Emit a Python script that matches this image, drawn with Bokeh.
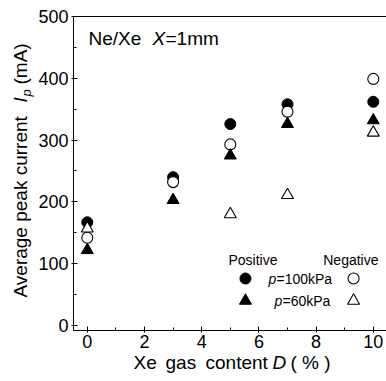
from bokeh.plotting import figure
from bokeh.models import Range1d, Label, FixedTicker, LinearAxis
from bokeh.embed import file_html
from bokeh.resources import INLINE
from math import pi

# ---- data ----
xe_content = [0, 3, 5, 7, 10]                 # Xe gas content D (%)
pos_100kpa = [167, 240, 326, 358, 362]        # Positive, p=100kPa (filled circle)
neg_100kpa = [142, 232, 293, 346, 399]        # Negative, p=100kPa (open circle)
pos_60kpa = [122, 203, 275, 326, 332]         # Positive, p=60kPa (filled triangle)
neg_60kpa_x = [0, 5, 7, 10]                   # Negative, p=60kPa (open triangle)
neg_60kpa = [157, 180, 211, 312]
x_ticks = [0, 2, 4, 6, 8, 10]
x_minor = [1, 3, 5, 7, 9]
y_ticks = [0, 100, 200, 300, 400, 500]
y_minor = [50, 150, 250, 350, 450]

# axis box (data units)
X_LO, X_HI = -0.48, 10.46
Y_LO, Y_HI = -8, 500

FONT = "Liberation Sans"
W, H = 386, 378

p = figure(width=W, height=H,
           x_range=Range1d(-3.035, 10.462), y_range=Range1d(-85.8, 525.9),
           output_backend="svg", toolbar_location=None,
           x_axis_location=None, y_axis_location=None,
           min_border=0)
p.xgrid.visible = False
p.ygrid.visible = False
p.outline_line_color = None
p.background_fill_color = "white"
p.border_fill_color = "white"


def style_axis(ax):
    ax.axis_line_color = "black"
    ax.axis_line_width = 1
    ax.major_tick_line_color = "black"
    ax.minor_tick_line_color = "black"
    ax.major_tick_in = 4
    ax.major_tick_out = 2
    ax.minor_tick_in = 3
    ax.minor_tick_out = 0
    ax.major_label_text_font = FONT
    ax.major_label_text_font_size = "18px"
    ax.major_label_text_color = "black"
    ax.major_label_standoff = 3


xaxis = LinearAxis(fixed_location=Y_LO, bounds=(X_LO, X_HI),
                   ticker=FixedTicker(ticks=x_ticks, minor_ticks=x_minor))
yaxis = LinearAxis(fixed_location=X_LO, bounds=(Y_LO, Y_HI),
                   ticker=FixedTicker(ticks=y_ticks, minor_ticks=y_minor))
style_axis(xaxis)
style_axis(yaxis)
p.add_layout(xaxis, "below")
p.add_layout(yaxis, "left")

# top border of the box
topaxis = LinearAxis(fixed_location=Y_HI, bounds=(X_LO, X_HI),
                     ticker=FixedTicker(ticks=[]))
topaxis.axis_line_color = "black"
topaxis.major_tick_line_color = None
topaxis.minor_tick_line_color = None
topaxis.major_label_text_font_size = "0px"
p.add_layout(topaxis, "above")

# ---- data markers ----
p.scatter(xe_content, pos_100kpa, marker="circle", size=11,
          fill_color="black", line_color="black")
p.scatter(xe_content, neg_100kpa, marker="circle", size=11,
          fill_color="white", line_color="black", line_width=1.1)
p.scatter(xe_content, pos_60kpa, marker="triangle", size=12,
          fill_color="black", line_color="black")
p.scatter(neg_60kpa_x, neg_60kpa, marker="triangle", size=12,
          fill_color="white", line_color="black", line_width=1.1)

# ---- legend (manual, as in the reference) ----
leg_x = [5.53, 9.31]
leg_y = [76, 40]
p.scatter([leg_x[0]], [leg_y[0]], marker="circle", size=11, fill_color="black", line_color="black")
p.scatter([leg_x[1]], [leg_y[0]], marker="circle", size=11, fill_color="white", line_color="black", line_width=1.1)
p.scatter([leg_x[0]], [leg_y[1]], marker="triangle", size=12, fill_color="black", line_color="black")
p.scatter([leg_x[1]], [leg_y[1]], marker="triangle", size=12, fill_color="white", line_color="black", line_width=1.1)


def lab(text, x, y, size="14px", style="normal", align="left", angle=0.0):
    # x, y in canvas pixels from the top-left corner
    p.add_layout(Label(x=x, y=H - y, x_units="screen", y_units="screen", text=text,
                       text_font=FONT, text_font_size=size, text_font_style=style,
                       text_color="black", text_align=align, text_baseline="middle",
                       angle=angle))


lab("Positive", 228, 259)
lab("Negative", 378, 259, align="right")
lab("p", 268, 278, style="italic")
lab("=100kPa", 276, 278)
lab("p", 274, 300, style="italic")
lab("=60kPa", 282, 300)

# annotation
lab("Ne/Xe", 88, 38, size="19px")
lab("X", 152, 38, size="19px", style="italic")
lab("=1mm", 165, 38, size="19px")

# x axis title (words placed separately to keep the wide spacing)
lab("Xe", 133, 362, size="19px")
lab("gas", 165, 362, size="19px")
lab("content", 205, 362, size="19px")
lab("D", 272, 362, size="19px", style="italic")
lab("( % )", 290, 362, size="19px")

# y axis title (rotated)
lab("Average peak current", 20, 297, size="19px", angle=pi / 2)
lab("I", 20, 102, size="19px", style="italic", angle=pi / 2)
lab("p", 26, 96, size="13px", style="italic", angle=pi / 2)
lab("(mA)", 20, 84, size="19px", angle=pi / 2)

open("out.html", "w").write(file_html(p, INLINE))
